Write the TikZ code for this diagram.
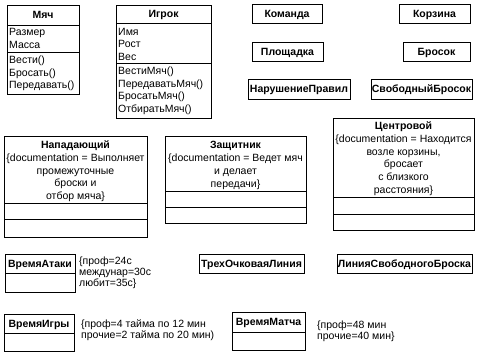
\documentclass[tikz,border=0pt]{standalone}
\usepackage{fontspec}
\setmainfont{Liberation Sans}
\usetikzlibrary{calc}
\newcommand\fnt{\fontsize{10.5}{12.8}\selectfont}
\tikzset{
  ln/.style={line width=0.8pt, draw=black},
  box/.style={ln, inner sep=0pt, anchor=north west},
  sbox/.style={ln, inner sep=0pt, font=\fnt\bfseries, text height=7.6pt, text depth=0pt},
  ttl/.style={inner sep=0pt, font=\fnt\bfseries, text height=7.6pt, text depth=0pt},
  ctr/.style={inner sep=0pt, font=\fnt, text height=7.6pt, text depth=0pt},
  item/.style={inner sep=0pt, font=\fnt, text height=7.6pt, text depth=0pt, anchor=west},
}
\newcommand\umlbox[5]{\node[box, minimum width={#4pt-#2pt}, minimum height={#5pt-#3pt}] (#1) at (#2,#3) {};}
\newcommand\usep[2]{\draw[ln] ($(#1.north west)+(0,#2)$) -- ($(#1.north east)+(0,#2)$);}
\begin{document}
\begin{tikzpicture}[x=1pt,y=-1pt]
\useasboundingbox[fill=white] (0,0) rectangle (482,354);
% Мяч
\umlbox{mjach}{7}{5}{79}{94}
\usep{mjach}{20}\usep{mjach}{47}
\node[ttl] (mjachT) at (43,15) {Мяч};
\node[item] (mjachA1) at (9,32) {Размер};
\node[item] (mjachA2) at (9,44.5) {Масса};
\node[item] (mjachM1) at (9,60) {Вести()};
\node[item] (mjachM2) at (9,72.5) {Бросать()};
\node[item] (mjachM3) at (9,85) {Передавать()};
% Игрок
\umlbox{igrok}{116}{5}{211}{118}
\usep{igrok}{18}\usep{igrok}{58}
\node[ttl] (igrokT) at (163.5,14) {Игрок};
\node[item] (igrokA1) at (118,32) {Имя};
\node[item] (igrokA2) at (118,44) {Рост};
\node[item] (igrokA3) at (118,56.5) {Вес};
\node[item] (igrokM1) at (118,71) {ВестиМяч()};
\node[item] (igrokM2) at (118,83.5) {ПередаватьМяч()};
\node[item] (igrokM3) at (118,96) {БросатьМяч()};
\node[item] (igrokM4) at (118,108.5) {ОтбиратьМяч()};
% simple boxes
\node[sbox, minimum width=70pt, minimum height=19pt] (komanda) at (287,13.5) {Команда};
\node[sbox, minimum width=71pt, minimum height=19pt] (korzina) at (434.5,13.5) {Корзина};
\node[sbox, minimum width=71pt, minimum height=19pt] (ploshadka) at (287.5,51.5) {Площадка};
\node[sbox, minimum width=67pt, minimum height=19pt] (brosok) at (436.5,51.5) {Бросок};
\node[sbox, minimum width=102pt, minimum height=20pt] (narush) at (299,89) {НарушениеПравил};
\node[sbox, minimum width=101pt, minimum height=20pt] (svobbr) at (421.5,89) {СвободныйБросок};
\node[sbox, minimum width=105pt, minimum height=19pt] (trehoch) at (251.5,263.5) {ТрехОчковаяЛиния};
\node[sbox, minimum width=135pt, minimum height=19pt] (liniasv) at (404.5,263.5) {ЛинияСвободногоБроска};
% Нападающий
\umlbox{napad}{4}{136}{147}{237}
\usep{napad}{67}\usep{napad}{83}
\node[ttl] (napadT) at (75.5,145) {Нападающий};
\node[ctr] (napadD1) at (75.5,157.5) {\{documentation = Выполняет};
\node[ctr] (napadD2) at (75.5,170.5) {промежуточные};
\node[ctr] (napadD3) at (75.5,183) {броски и};
\node[ctr] (napadD4) at (75.5,196) {отбор мяча\}};
% Защитник
\umlbox{zasch}{165}{136}{306}{223}
\usep{zasch}{55}\usep{zasch}{71}
\node[ttl] (zaschT) at (235.5,145) {Защитник};
\node[ctr] (zaschD1) at (235.5,158) {\{documentation = Ведет мяч};
\node[ctr] (zaschD2) at (235.5,171) {и делает};
\node[ctr] (zaschD3) at (235.5,183.5) {передачи\}};
% Центровой
\umlbox{centr}{333}{118}{474}{230}
\usep{centr}{79}\usep{centr}{96}
\node[ttl] (centrT) at (403.5,125.5) {Центровой};
\node[ctr] (centrD1) at (403.5,138.5) {\{documentation = Находится};
\node[ctr] (centrD2) at (403.5,151.5) {возле корзины,};
\node[ctr] (centrD3) at (403.5,164) {бросает};
\node[ctr] (centrD4) at (403.5,177) {с близкого};
\node[ctr] (centrD5) at (403.5,190) {расстояния\}};
% ВремяАтаки
\umlbox{vrat}{5}{254}{75}{292}
\usep{vrat}{19}
\node[ttl] (vratT) at (40,263.5) {ВремяАтаки};
\node[item] (vratN1) at (79,261) {\{проф=24с};
\node[item] (vratN2) at (79,272) {междунар=30с};
\node[item] (vratN3) at (79,283) {любит=35с\}};
% ВремяИгры
\umlbox{vrigr}{4}{314}{74}{351}
\usep{vrigr}{19}
\node[ttl] (vrigrT) at (39,323.5) {ВремяИгры};
\node[item] (vrigrN1) at (81,324) {\{проф=4 тайма по 12 мин};
\node[item] (vrigrN2) at (81,335) {прочие=2 тайма по 20 мин)};
% ВремяМатча
\umlbox{vrm}{232}{312}{305}{350}
\usep{vrm}{20}
\node[ttl] (vrmT) at (268.5,322) {ВремяМатча};
\node[item] (vrmN1) at (317,325) {\{проф=48 мин};
\node[item] (vrmN2) at (317,336) {прочие=40 мин\}};
\end{tikzpicture}
\end{document}
